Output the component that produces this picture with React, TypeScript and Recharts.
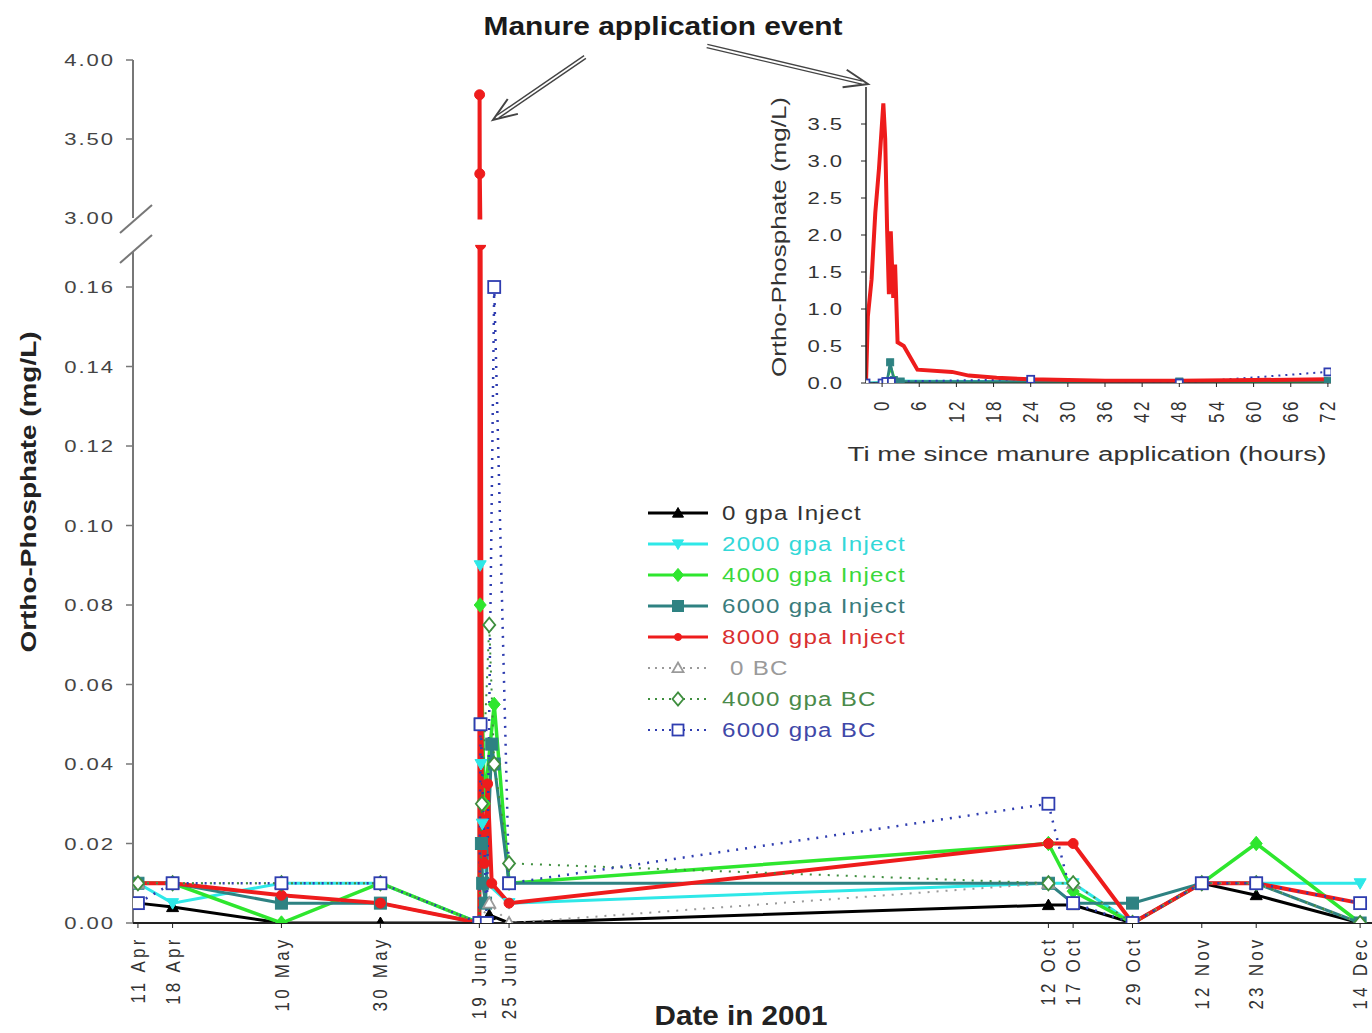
import React from "react";
import { LineChart, Line, XAxis, YAxis, ReferenceLine, Legend } from "recharts";

const FONT = '"Liberation Sans", Arial, sans-serif';

// sample dates (day of year, 2001)
const dateLabels = ["11 Apr", "18 Apr", "10 May", "30 May", "19 June", "25 June", "12 Oct", "17 Oct", "29 Oct", "12 Nov", "23 Nov", "14 Dec"];
const dateDays = [101, 108, 130, 150, 170, 176, 285, 290, 302, 316, 327, 348];
const EVENT_DAY = 170;

// routine samples (every date except 19 June)
const sampleDays = [101, 108, 130, 150, 176, 285, 290, 302, 316, 327, 348];
const inject0 = [0.005, 0.004, 0.0, 0.0, 0.0, 0.0045, 0.0045, 0.0, 0.01, 0.007, 0.0];
const inject2000 = [0.01, 0.005, 0.01, 0.01, 0.005, 0.01, 0.01, 0.0, 0.01, 0.01, 0.01];
const inject4000 = [0.01, 0.01, 0.0, 0.01, 0.01, 0.02, 0.008, 0.0, 0.01, 0.02, 0.0];
const inject6000 = [0.01, 0.01, 0.005, 0.005, 0.01, 0.01, 0.005, 0.005, 0.01, 0.01, 0.0];
const inject8000 = [0.01, 0.01, 0.007, 0.005, 0.005, 0.02, 0.02, 0.0, 0.01, 0.01, 0.005];
const bc0 = [0.01, 0.01, 0.01, 0.01, 0.0, 0.01, 0.01, 0.0, 0.01, 0.01, 0.0];
const bc4000 = [0.01, 0.01, 0.01, 0.01, 0.015, 0.01, 0.01, 0.0, 0.01, 0.01, 0.0];
const bc6000 = [0.005, 0.01, 0.01, 0.01, 0.01, 0.03, 0.005, 0.0, 0.01, 0.01, 0.005];

// manure event samples, hours after application on 19 June
const inject0EvH = [0, 48];
const inject0EvV = [0, 0.002];
const inject2000EvH = [0, 4, 8, 14, 36];
const inject2000EvV = [0, 0.09, 0.04, 0.025, 0.01];
const inject4000EvH = [0, 4, 24, 72];
const inject4000EvV = [0, 0.08, 0.03, 0.055];
const inject6000EvH = [0, 4, 10, 16, 30, 60, 72];
const inject6000EvV = [0, 0.05, 0.02, 0.01, 0.005, 0.045, 0.04];
const inject8000EvH = [0, 1, 2, 6, 12, 24, 40, 60];
const inject8000EvV = [0, 3.78, 3.28, 0.18, 0.03, 0.015, 0.035, 0.01];
const bc0EvH = [0, 48];
const bc0EvV = [0, 0.005];
const bc4000EvH = [0, 12, 48, 72];
const bc4000EvV = [0, 0.03, 0.075, 0.04];
const bc6000EvH = [0, 6, 36, 72];
const bc6000EvV = [0, 0.05, 0, 0.16];

// inset: first 72 hours
const insetHourTicks = [0, 6, 12, 18, 24, 30, 36, 42, 48, 54, 60, 66, 72];
const insetValueTicks = [0, 0.5, 1, 1.5, 2, 2.5, 3, 3.5];
const insetRedH = [-2.6, -2.3, -1.7, -1.1, -0.5, 0.2, 0.5, 0.8, 1.1, 1.4, 1.8, 2.1, 2.5, 3.5, 5.7, 11.3, 14, 18.5, 24, 36, 48, 60, 72];
const insetRedV = [0, 0.9, 1.4, 2.3, 2.9, 3.78, 3.3, 2.1, 1.2, 2.05, 1.15, 1.6, 0.55, 0.5, 0.18, 0.15, 0.1, 0.07, 0.05, 0.03, 0.03, 0.04, 0.05];
const insetTealH = [-2.6, 0, 0.8, 1.3, 1.9, 3, 24, 48, 72];
const insetTealV = [0, 0, 0.02, 0.28, 0.04, 0.02, 0.02, 0.02, 0.03];
const insetGreenH = [-2.6, 0.5, 1.5, 2.2, 24, 72];
const insetGreenV = [0, 0, 0.2, 0.02, 0.01, 0.02];
const insetCyanH = [-2.6, 0, 1, 24, 72];
const insetCyanV = [0, 0.01, 0.03, 0.02, 0.02];
const insetNavyH = [-2.6, 0, 0.6, 1.5, 24, 48, 72];
const insetNavyV = [0, 0, 0.02, 0.02, 0.05, 0, 0.15];
const insetBlackH = [-2.6, 24, 72];
const insetBlackV = [0, 0.005, 0.01];

// main y tick labels (broken axis)
const yTickValues = [0, 0.02, 0.04, 0.06, 0.08, 0.1, 0.12, 0.14, 0.16, 3.0, 3.5, 4.0];

// broken axis: lower panel 0..0.17, upper panel 3..4
const LOW_TOP = 0.1706;
const UP_BASE = 3.0;
const UP_BASE_D = 0.17736;
const UP_SCALE = 0.03975;
const disp = (v: number) => {
  if (v <= LOW_TOP) return v;
  if (v >= UP_BASE) return UP_BASE_D + (v - UP_BASE) * UP_SCALE;
  return LOW_TOP + ((v - LOW_TOP) / (UP_BASE - LOW_TOP)) * (UP_BASE_D - LOW_TOP);
};
const Y_MAX = disp(4.0);
const yTickDisp = yTickValues.map(disp);

const PLOT_LEFT = 133;
const PLOT_TOP = 60;
const PLOT_BOTTOM = 923;
const yPx = (v: number) => PLOT_TOP + (1 - disp(v) / Y_MAX) * (PLOT_BOTTOM - PLOT_TOP);

const buildMain = (vals: number[], evH: number[], evV: number[]) => {
  const pts: { x: number; y: number }[] = [];
  sampleDays.forEach((d, i) => { if (d < EVENT_DAY) pts.push({ x: d, y: disp(vals[i]) }); });
  evH.forEach((h, i) => pts.push({ x: EVENT_DAY + h / 24, y: disp(evV[i]) }));
  sampleDays.forEach((d, i) => { if (d > EVENT_DAY) pts.push({ x: d, y: disp(vals[i]) }); });
  return pts;
};
const buildInset = (hs: number[], vs: number[]) => hs.map((h, i) => ({ h, v: vs[i] }));

type Shape = "triUp" | "triDown" | "diamond" | "square" | "circle";

const series = [
  { name: "0 gpa Inject", color: "#000000", text: "#333333", shape: "triUp" as Shape, filled: true, dash: "", width: 3, data: buildMain(inject0, inject0EvH, inject0EvV) },
  { name: "2000 gpa Inject", color: "#2EE8E8", text: "#33D8D8", shape: "triDown" as Shape, filled: true, dash: "", width: 3, data: buildMain(inject2000, inject2000EvH, inject2000EvV) },
  { name: "4000 gpa Inject", color: "#2EE62E", text: "#3BD83B", shape: "diamond" as Shape, filled: true, dash: "", width: 3.5, data: buildMain(inject4000, inject4000EvH, inject4000EvV) },
  { name: "6000 gpa Inject", color: "#2E8282", text: "#3A7C7C", shape: "square" as Shape, filled: true, dash: "", width: 3, data: buildMain(inject6000, inject6000EvH, inject6000EvV) },
  { name: "8000 gpa Inject", color: "#EE1C1C", text: "#D93030", shape: "circle" as Shape, filled: true, dash: "", width: 4, data: buildMain(inject8000, inject8000EvH, inject8000EvV) },
  { name: "0 BC", color: "#9A9A9A", text: "#9A9A9A", shape: "triUp" as Shape, filled: false, dash: "2 7", width: 2, data: buildMain(bc0, bc0EvH, bc0EvV) },
  { name: "4000 gpa BC", color: "#3E8E3E", text: "#4A8A4A", shape: "diamond" as Shape, filled: false, dash: "2 7", width: 2, data: buildMain(bc4000, bc4000EvH, bc4000EvV) },
  { name: "6000 gpa BC", color: "#2F3DB0", text: "#3F48A8", shape: "square" as Shape, filled: false, dash: "2 7", width: 2.5, data: buildMain(bc6000, bc6000EvH, bc6000EvV) },
];

const insetSeries = [
  { key: "black", color: "#000000", shape: "triUp" as Shape, filled: true, dash: "", width: 2, data: buildInset(insetBlackH, insetBlackV), dots: false },
  { key: "cyan", color: "#2EE8E8", shape: "triDown" as Shape, filled: true, dash: "", width: 2.5, data: buildInset(insetCyanH, insetCyanV), dots: false },
  { key: "green", color: "#2EE62E", shape: "diamond" as Shape, filled: true, dash: "", width: 2, data: buildInset(insetGreenH, insetGreenV), dots: false },
  { key: "teal", color: "#2E8282", shape: "square" as Shape, filled: true, dash: "", width: 2.5, data: buildInset(insetTealH, insetTealV), dots: true },
  { key: "navy", color: "#2F3DB0", shape: "square" as Shape, filled: false, dash: "2 5", width: 2, data: buildInset(insetNavyH, insetNavyV), dots: true },
  { key: "red", color: "#EE1C1C", shape: "circle" as Shape, filled: true, dash: "", width: 4, data: buildInset(insetRedH, insetRedV), dots: false },
];

function Marker({ cx, cy, shape, size, color, filled }: any) {
  const h = size / 2;
  const p = { fill: filled ? color : "#ffffff", stroke: color, strokeWidth: filled ? 1 : 1.8 };
  if (shape === "square") return <rect x={cx - h} y={cy - h} width={size} height={size} {...p} />;
  if (shape === "circle") return <circle cx={cx} cy={cy} r={h} {...p} />;
  if (shape === "diamond")
    return <polygon points={`${cx},${cy - h * 1.2} ${cx + h},${cy} ${cx},${cy + h * 1.2} ${cx - h},${cy}`} {...p} />;
  if (shape === "triUp")
    return <polygon points={`${cx},${cy - h} ${cx + h},${cy + h * 0.75} ${cx - h},${cy + h * 0.75}`} {...p} />;
  return <polygon points={`${cx},${cy + h} ${cx + h},${cy - h * 0.75} ${cx - h},${cy - h * 0.75}`} {...p} />;
}

const makeDot = (s: any, size: number) => (props: any) => {
  const { cx, cy, index } = props;
  if (cx == null || cy == null || Number.isNaN(cy)) return <g key={`n${index}`} />;
  return <Marker key={`m${index}`} cx={cx} cy={cy} shape={s.shape} size={s.shape === "circle" ? size - 2 : size} color={s.color} filled={s.filled} />;
};

function DateTick(props: any) {
  const { x, y, payload } = props;
  const i = dateDays.indexOf(payload.value);
  return (
    <text transform={`translate(${x},${y}) rotate(-90) scale(1,1.2)`} x={0} y={0} textAnchor="end" dominantBaseline="central"
      fontFamily={FONT} fontSize={17} letterSpacing={3.2} fill="#333">
      {dateLabels[i]}
    </text>
  );
}

function ValueTick(props: any) {
  const { y, payload } = props;
  const i = yTickDisp.findIndex((d) => Math.abs(d - payload.value) < 1e-7);
  const label = i >= 0 ? yTickValues[i].toFixed(2) : "";
  return (
    <g>
      {label !== "3.00" && <line x1={PLOT_LEFT - 7} x2={PLOT_LEFT} y1={y} y2={y} stroke="#777" strokeWidth={1.5} />}
      <text transform={`translate(${PLOT_LEFT - 18},${y}) scale(1.3,1)`} x={0} y={0} textAnchor="end" dominantBaseline="central"
        fontFamily={FONT} fontSize={17} letterSpacing={1.5} fill="#444">
        {label}
      </text>
    </g>
  );
}

function MainYLabel() {
  return (
    <text x={28} y={492} transform="rotate(-90 28 492)" textAnchor="middle" dominantBaseline="central" fontFamily={FONT}
      fontWeight="bold" fontSize={22} textLength={321} lengthAdjust="spacingAndGlyphs" fill="#222">
      Ortho-Phosphate (mg/L)
    </text>
  );
}

function MainXLabel() {
  return (
    <text x={741} y={1025} textAnchor="middle" fontFamily={FONT} fontWeight="bold" fontSize={27} textLength={173}
      lengthAdjust="spacingAndGlyphs" fill="#222">
      Date in 2001
    </text>
  );
}

function InsetXTick(props: any) {
  const { x, y, payload } = props;
  return (
    <text transform={`translate(${x},${y}) rotate(-90) scale(1,1.25)`} x={0} y={0} textAnchor="end" dominantBaseline="central"
      fontFamily={FONT} fontSize={17} letterSpacing={2.5} fill="#333">
      {payload.value}
    </text>
  );
}

function InsetYTick(props: any) {
  const { x, y, payload } = props;
  return (
    <text transform={`translate(${x},${y}) scale(1.3,1)`} x={0} y={0} textAnchor="end" dominantBaseline="central"
      fontFamily={FONT} fontSize={17} letterSpacing={1.5} fill="#333">
      {Number(payload.value).toFixed(1)}
    </text>
  );
}

function InsetXLabel() {
  return (
    <text x={327} y={391} textAnchor="middle" fontFamily={FONT} fontSize={20} textLength={479} lengthAdjust="spacingAndGlyphs" fill="#333">
      Ti me since manure application (hours)
    </text>
  );
}

function InsetYLabel() {
  return (
    <text x={19} y={167} transform="rotate(-90 19 167)" textAnchor="middle" dominantBaseline="central" fontFamily={FONT}
      fontSize={20} textLength={280} lengthAdjust="spacingAndGlyphs" fill="#333">
      Ortho-Phosphate (mg/L)
    </text>
  );
}

const renderLegend = () => (
  <svg width={300} height={250} style={{ overflow: "visible" }}>
    {series.map((s, i) => {
      const y = 15 + i * 31;
      return (
        <g key={s.name}>
          <line x1={8} x2={68} y1={y} y2={y} stroke={s.color} strokeWidth={s.dash ? 2 : 3} strokeDasharray={s.dash ? "2 5" : undefined} />
          <Marker cx={38} cy={y} shape={s.shape} size={s.shape === "circle" ? 7 : 11} color={s.color} filled={s.filled} />
          <text transform={`translate(${s.name === "0 BC" ? 90 : 82},${y}) scale(1.15,1)`} x={0} y={0} dominantBaseline="central"
            fontFamily={FONT} fontSize={21} letterSpacing={1.1} fill={s.text}>
            {s.name}
          </text>
        </g>
      );
    })}
  </svg>
);

function HollowArrow({ x1, y1, x2, y2 }: { x1: number; y1: number; x2: number; y2: number }) {
  const dx = x2 - x1;
  const dy = y2 - y1;
  const len = Math.hypot(dx, dy);
  const ux = dx / len;
  const uy = dy / len;
  const nx = -uy;
  const ny = ux;
  const L = 24;
  const W = 9;
  const bx = x2 - ux * L;
  const by = y2 - uy * L;
  const o = 1.6;
  return (
    <g fill="none" stroke="#444" strokeWidth={1.4}>
      <line x1={x1 + nx * o} y1={y1 + ny * o} x2={x2 - ux * 6 + nx * o} y2={y2 - uy * 6 + ny * o} />
      <line x1={x1 - nx * o} y1={y1 - ny * o} x2={x2 - ux * 6 - nx * o} y2={y2 - uy * 6 - ny * o} />
      <polyline points={`${bx + nx * W},${by + ny * W} ${x2},${y2} ${bx - nx * W},${by - ny * W}`} strokeWidth={2} />
    </g>
  );
}

export default function App() {
  const gapTop = yPx(UP_BASE) + 1.5;
  const gapBottom = yPx(0.1712);
  const axisTopOfLower = 0.169;
  return (
    <div style={{ position: "absolute", left: 0, top: 0, width: 1372, height: 1033, background: "#fff", fontFamily: FONT }}>
      <div style={{ position: "absolute", left: 0, top: 0 }}>
        <LineChart width={1372} height={1033} margin={{ top: PLOT_TOP, right: 0, bottom: 10, left: 15 }}>
          <XAxis type="number" dataKey="x" domain={[100, 350.4]} ticks={dateDays} tick={<DateTick />} tickSize={5} tickMargin={8.5}
            height={100} axisLine={{ stroke: "#222", strokeWidth: 2 }} tickLine={{ stroke: "#222" }} allowDataOverflow
            interval={0} label={<MainXLabel />} />
          <YAxis type="number" domain={[0, Y_MAX]} ticks={yTickDisp} tick={<ValueTick />} width={118} axisLine={false}
            tickLine={false} allowDataOverflow interval={0} label={<MainYLabel />} />
          <ReferenceLine segment={[{ x: 100, y: 0 }, { x: 100, y: axisTopOfLower }]} stroke="#777" strokeWidth={2} ifOverflow="visible" />
          <ReferenceLine segment={[{ x: 100, y: UP_BASE_D }, { x: 100, y: Y_MAX }]} stroke="#777" strokeWidth={2} ifOverflow="visible" />
          {series.map((s) => (
            <Line key={s.name} data={s.data} dataKey="y" type="linear" stroke={s.color} strokeWidth={s.width}
              strokeDasharray={s.dash || undefined} dot={makeDot(s, 12)} activeDot={false} isAnimationActive={false} />
          ))}
          <Legend content={renderLegend} layout="vertical" align="center" verticalAlign="middle"
            wrapperStyle={{ left: 640, top: 498, width: 300, height: 250 }} />
        </LineChart>
      </div>

      <svg width={1372} height={1033} style={{ position: "absolute", left: 0, top: 0, pointerEvents: "none" }}>
        <rect x={140} y={gapTop} width={420} height={gapBottom - gapTop} fill="#fff" />
        <line x1={120} y1={233} x2={152} y2={205} stroke="#777" strokeWidth={2} />
        <line x1={120} y1={263} x2={152} y2={235} stroke="#777" strokeWidth={2} />
        <text x={663} y={35} textAnchor="middle" fontFamily={FONT} fontWeight="bold" fontSize={25} textLength={359}
          lengthAdjust="spacingAndGlyphs" fill="#1a1a1a">
          Manure application event
        </text>
        <HollowArrow x1={585} y1={57} x2={493} y2={120} />
        <HollowArrow x1={707} y1={46} x2={868} y2={84} />
      </svg>

      <div style={{ position: "absolute", left: 760, top: 70 }}>
        <LineChart width={600} height={410} margin={{ top: 17, right: 29, bottom: 7, left: 16 }}>
          <XAxis type="number" dataKey="h" domain={[-2.6, 72.5]} ticks={insetHourTicks} tick={<InsetXTick />} tickSize={4}
            tickMargin={12} height={90} axisLine={{ stroke: "#222" }} tickLine={{ stroke: "#222" }} allowDataOverflow interval={0}
            label={<InsetXLabel />} />
          <YAxis type="number" domain={[0, 4]} ticks={insetValueTicks} tick={<InsetYTick />} width={90} tickSize={5}
            tickMargin={17} axisLine={{ stroke: "#222", strokeWidth: 1.5 }} tickLine={{ stroke: "#222" }} allowDataOverflow
            interval={0} label={<InsetYLabel />} />
          {insetSeries.map((s) => (
            <Line key={s.key} data={s.data} dataKey="v" type="linear" stroke={s.color} strokeWidth={s.width}
              strokeDasharray={s.dash || undefined} dot={s.dots ? makeDot(s, 7) : false} activeDot={false}
              isAnimationActive={false} />
          ))}
        </LineChart>
      </div>
    </div>
  );
}
